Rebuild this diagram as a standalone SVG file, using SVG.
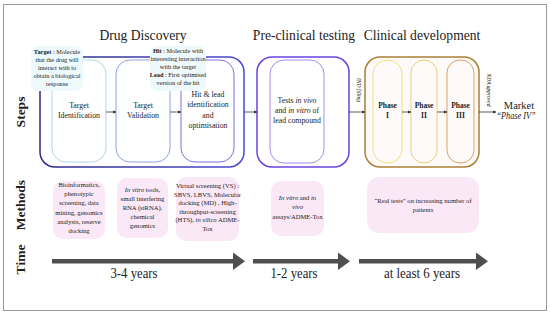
<svg xmlns="http://www.w3.org/2000/svg" width="550" height="314" viewBox="0 0 550 314" font-family="'Liberation Serif', 'DejaVu Serif', serif">
<defs>
<linearGradient id="gDD" x1="0" y1="0" x2="1" y2="0"><stop offset="0" stop-color="#2c2a82"/><stop offset="1" stop-color="#4a4ad2"/></linearGradient>
<marker id="ah" viewBox="0 0 6 6" refX="5.5" refY="3" markerWidth="4" markerHeight="4" orient="auto"><path d="M0,0 L6,3 L0,6 z" fill="#333"/></marker>
<style>
text{font-family:'Liberation Serif','DejaVu Serif',serif;fill:#222;text-anchor:middle}
.hdr{font-size:13.6px}
.side{font-size:13.5px;font-weight:bold}
.lbl{font-size:6.3px}
.step{font-size:7.8px}
.ph{font-size:7.5px;font-weight:bold}
.meth{font-size:6.6px}
.yrs{font-size:14.5px}
.lb{fill:#eef9fc}
.mb{fill:#fbe8f6}
.conn{stroke:#333;stroke-width:0.8;fill:none;marker-end:url(#ah)}
.bar{fill:#4f4f4f}
</style>
</defs>
<rect x="3.5" y="4.5" width="543" height="306" fill="#fff" stroke="#999" stroke-width="1"/>

<g id="headers">
<text class="hdr" x="143" y="40">Drug Discovery</text>
<text class="hdr" x="304" y="40">Pre-clinical testing</text>
<text class="hdr" x="422" y="40">Clinical development</text>
</g>

<g id="side-labels">
<text class="side" transform="translate(25,112) rotate(-90)">Steps</text>
<text class="side" transform="translate(25,205) rotate(-90)">Methods</text>
<text class="side" transform="translate(25,259.5) rotate(-90)">Time</text>
</g>

<g id="drug-discovery">
<rect x="40" y="57" width="204" height="110" rx="15" fill="#fff" stroke="url(#gDD)" stroke-width="1.5"/>
</g>
<g id="target-identification">
<rect x="52" y="60" width="54" height="102" rx="14" fill="none" stroke="#b2d6ea" stroke-width="1"/>
<text class="step" x="79" y="108">Target</text>
<text class="step" x="79" y="118">Identification</text>
</g>
<g id="target-validation">
<rect x="116" y="60" width="54" height="102" rx="14" fill="none" stroke="#8ea2e2" stroke-width="1"/>
<text class="step" x="143" y="108">Target</text>
<text class="step" x="143" y="118">Validation</text>
</g>
<g id="hit-lead">
<rect x="181" y="60" width="53" height="102" rx="14" fill="none" stroke="#7e70e0" stroke-width="1"/>
<text class="step" x="208" y="97">Hit &amp; lead</text>
<text class="step" x="208" y="107">identification</text>
<text class="step" x="208" y="117.5">and</text>
<text class="step" x="208" y="128">optimisation</text>
</g>
<g id="target-note">
<rect x="31" y="46" width="52" height="45" rx="8" class="lb"/>
<text class="lbl" x="57" y="54"><tspan font-weight="bold">Target</tspan> : Molecule</text>
<text class="lbl" x="57" y="62">that the drug will</text>
<text class="lbl" x="57" y="70">interact with to</text>
<text class="lbl" x="57" y="78">obtain a biological</text>
<text class="lbl" x="57" y="86">response</text>
</g>
<g id="hit-note">
<rect x="150" y="46" width="56" height="45" rx="8" class="lb"/>
<text class="lbl" x="178" y="53"><tspan font-weight="bold">Hit</tspan> : Molecule with</text>
<text class="lbl" x="178" y="61">interesting interaction</text>
<text class="lbl" x="178" y="69">with the target</text>
<text class="lbl" x="178" y="77"><tspan font-weight="bold">Lead</tspan> : First optimised</text>
<text class="lbl" x="178" y="85">version of the hit</text>
</g>

<g id="pre-clinical">
<rect x="257" y="57" width="92" height="110" rx="15" fill="#fff" stroke="#6a42e2" stroke-width="1.5"/>
<rect x="270" y="60" width="54" height="103" rx="14" fill="none" stroke="#a88ce8" stroke-width="1"/>
<text class="step" x="297" y="103">Tests <tspan font-style="italic">in vivo</tspan></text>
<text class="step" x="297" y="113">and <tspan font-style="italic">in vitro</tspan> of</text>
<text class="step" x="297" y="123">lead compound</text>
</g>

<g id="clinical">
<rect x="365" y="57" width="114" height="110" rx="15" fill="#fffafa" stroke="#a98036" stroke-width="1.5"/>
</g>
<g id="phase-1">
<rect x="373" y="60" width="29" height="103" rx="14" fill="none" stroke="#f1e27c" stroke-width="1"/>
<text class="ph" x="387.5" y="108">Phase</text>
<text class="ph" x="387.5" y="118">I</text>
</g>
<g id="phase-2">
<rect x="411" y="60" width="26" height="103" rx="13" fill="none" stroke="#e8cf82" stroke-width="1"/>
<text class="ph" x="424" y="108">Phase</text>
<text class="ph" x="424" y="118">II</text>
</g>
<g id="phase-3">
<rect x="447" y="60" width="27" height="103" rx="13" fill="none" stroke="#dca262" stroke-width="1"/>
<text class="ph" x="460.5" y="108">Phase</text>
<text class="ph" x="460.5" y="118">III</text>
</g>

<g id="market">
<text x="519" y="109" style="font-size:10.5px">Market</text>
<text x="516" y="119" style="font-size:10px;font-style:italic" textLength="39" lengthAdjust="spacingAndGlyphs">“Phase IV”</text>
</g>

<g id="connectors">
<path class="conn" d="M106,112 H116"/>
<path class="conn" d="M170,112 H181"/>
<path class="conn" d="M244,112 H257"/>
<path class="conn" d="M349,112 H365"/>
<path class="conn" d="M402,112 H411"/>
<path class="conn" d="M437,112 H447"/>
<path class="conn" d="M479,112 H496"/>
<text transform="translate(357,90) rotate(90)" style="font-size:5.5px;font-style:italic">IND filling</text>
<text transform="translate(487,90) rotate(90)" style="font-size:5.5px;font-style:italic">NDA approved</text>
</g>

<g id="methods-1">
<rect x="53" y="181" width="52" height="58" rx="10" class="mb"/>
<text class="meth" x="79" y="187">Bioinformatics,</text>
<text class="meth" x="79" y="196">phenotypic</text>
<text class="meth" x="79" y="205">screening, data</text>
<text class="meth" x="79" y="214.5">mining, genomics</text>
<text class="meth" x="79" y="224">analysis, reserve</text>
<text class="meth" x="79" y="233">docking</text>
</g>
<g id="methods-2">
<rect x="117" y="178" width="51" height="60" rx="10" class="mb"/>
<text class="meth" x="142.5" y="192"><tspan font-style="italic">In vitro</tspan> tools,</text>
<text class="meth" x="142.5" y="201">small interfering</text>
<text class="meth" x="142.5" y="210">RNA (siRNA),</text>
<text class="meth" x="142.5" y="219">chemical</text>
<text class="meth" x="142.5" y="228">genomics</text>
</g>
<g id="methods-3">
<rect x="176" y="177" width="63" height="64" rx="10" class="mb"/>
<text class="meth" x="207.5" y="188">Virtual screening (VS) :</text>
<text class="meth" x="207.5" y="196.5">SBVS, LBVS, Molecular</text>
<text class="meth" x="207.5" y="205">docking (MD) , High-</text>
<text class="meth" x="207.5" y="213.5">throughput-screening</text>
<text class="meth" x="207.5" y="222">(HTS), <tspan font-style="italic">in silico</tspan> ADME-</text>
<text class="meth" x="207.5" y="231">Tox</text>
</g>
<g id="methods-4">
<rect x="271" y="181" width="53" height="55" rx="10" class="mb"/>
<text class="meth" x="297.5" y="200"><tspan font-style="italic">In vitro</tspan> and <tspan font-style="italic">in</tspan></text>
<text class="meth" x="297.5" y="209"><tspan font-style="italic">vivo</tspan></text>
<text class="meth" x="297.5" y="218.5">assays/ADME-Tox</text>
</g>
<g id="methods-5">
<rect x="367" y="177" width="112" height="56" rx="12" class="mb"/>
<text class="meth" x="423" y="203">“Real tests” on increasing number of</text>
<text class="meth" x="423" y="212">patients</text>
</g>

<g id="time">
<rect class="bar" x="52" y="259" width="182" height="4.5"/>
<path class="bar" d="M233,252.5 L245,261.2 L233,270 z"/>
<rect class="bar" x="253" y="259" width="86" height="4.5"/>
<path class="bar" d="M338,252.5 L350,261.2 L338,270 z"/>
<rect class="bar" x="359" y="259" width="118" height="4.5"/>
<path class="bar" d="M476,252.5 L488,261.2 L476,270 z"/>
<text class="yrs" x="134" y="278" textLength="47" lengthAdjust="spacingAndGlyphs">3-4 years</text>
<text class="yrs" x="294" y="278" textLength="47" lengthAdjust="spacingAndGlyphs">1-2 years</text>
<text class="yrs" x="422" y="278" textLength="76" lengthAdjust="spacingAndGlyphs">at least 6 years</text>
</g>
</svg>
